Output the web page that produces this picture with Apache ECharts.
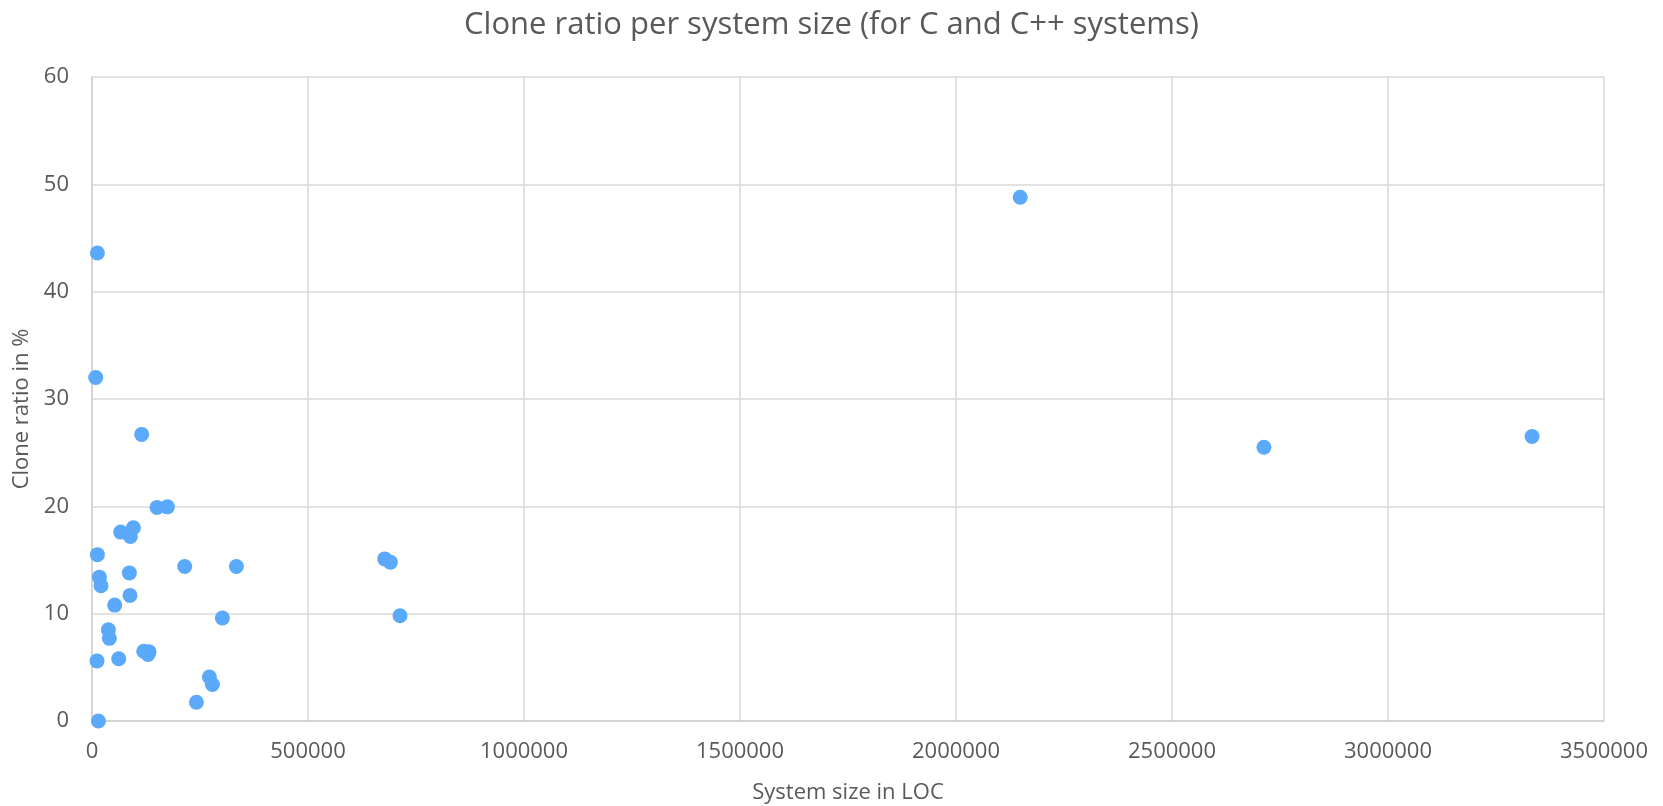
<!DOCTYPE html>
<html>
<head>
<meta charset="utf-8">
<title>Clone ratio per system size</title>
<script src="https://cdn.jsdelivr.net/npm/echarts@6/dist/echarts.min.js"></script>
<style>
  html, body { margin: 0; padding: 0; background: #fff; }
  #main { width: 1663px; height: 806px; }
</style>
</head>
<body>
<div id="main"></div>
<script>
// system size (LOC) and clone ratio (%) per system
var sizes = [12500, 8600, 115000, 2148600, 2712800, 3333500, 150500, 174500, 66400, 95800,
  88900, 12500, 17100, 20800, 86500, 88000, 214600, 334200, 52500, 37900,
  40200, 11600, 61800, 119700, 132000, 129600, 301800, 271700, 278700, 241700,
  14800, 677600, 690700, 713000];
var ratios = [43.6, 32.0, 26.7, 48.8, 25.5, 26.5, 19.9, 19.95, 17.6, 18.0,
  17.2, 15.5, 13.4, 12.6, 13.8, 11.7, 14.4, 14.4, 10.8, 8.5,
  7.7, 5.6, 5.8, 6.5, 6.45, 6.2, 9.6, 4.1, 3.4, 1.75,
  0.0, 15.1, 14.8, 9.8];

var xMax = 3500000, xStep = 500000;
var yMax = 60, yStep = 10;

var points = [];
for (var i = 0; i < sizes.length; i++) {
  points.push([sizes[i], ratios[i]]);
}

var txt = '#595959';
var font = 'Open Sans';

var myChart = echarts.init(document.getElementById('main'));
myChart.setOption({
  animation: false,
  backgroundColor: '#fff',
  title: {
    text: 'Clone ratio per system size (for C and C++ systems)',
    left: 'center',
    top: 5,
    textStyle: { color: txt, fontFamily: font, fontSize: 31, fontWeight: 'normal' }
  },
  grid: { left: 92, right: 59, top: 77, bottom: 85, outerBoundsMode: 'none' },
  xAxis: {
    type: 'value',
    min: 0, max: xMax, interval: xStep,
    name: 'System size in LOC',
    nameLocation: 'middle',
    nameGap: 61,
    nameTextStyle: { color: txt, fontFamily: font, fontSize: 22 },
    axisLine: { show: true, onZero: false, lineStyle: { color: '#d0d0d0', width: 1.5 } },
    axisTick: { show: false },
    axisLabel: {
      color: txt, fontFamily: font, fontSize: 22, margin: 20,
      formatter: function (v) { return String(v); }
    },
    splitLine: { show: true, lineStyle: { color: '#d9d9d9', width: 1.5 } }
  },
  yAxis: {
    type: 'value',
    min: 0, max: yMax, interval: yStep,
    name: 'Clone ratio in %',
    nameLocation: 'middle',
    nameGap: 57,
    nameTextStyle: { color: txt, fontFamily: font, fontSize: 22, padding: [0, 20, 0, 0] },
    axisLine: { show: true, lineStyle: { color: '#d0d0d0', width: 1.5 } },
    axisTick: { show: false },
    axisLabel: { color: txt, fontFamily: font, fontSize: 22, margin: 23 },
    splitLine: { show: true, lineStyle: { color: '#d9d9d9', width: 1.5 } }
  },
  series: [{
    type: 'scatter',
    data: points,
    symbol: 'circle',
    symbolSize: 15,
    itemStyle: { color: '#5aa9fa', opacity: 1 }
  }]
});
window.onresize = myChart.resize;
</script>
</body>
</html>
